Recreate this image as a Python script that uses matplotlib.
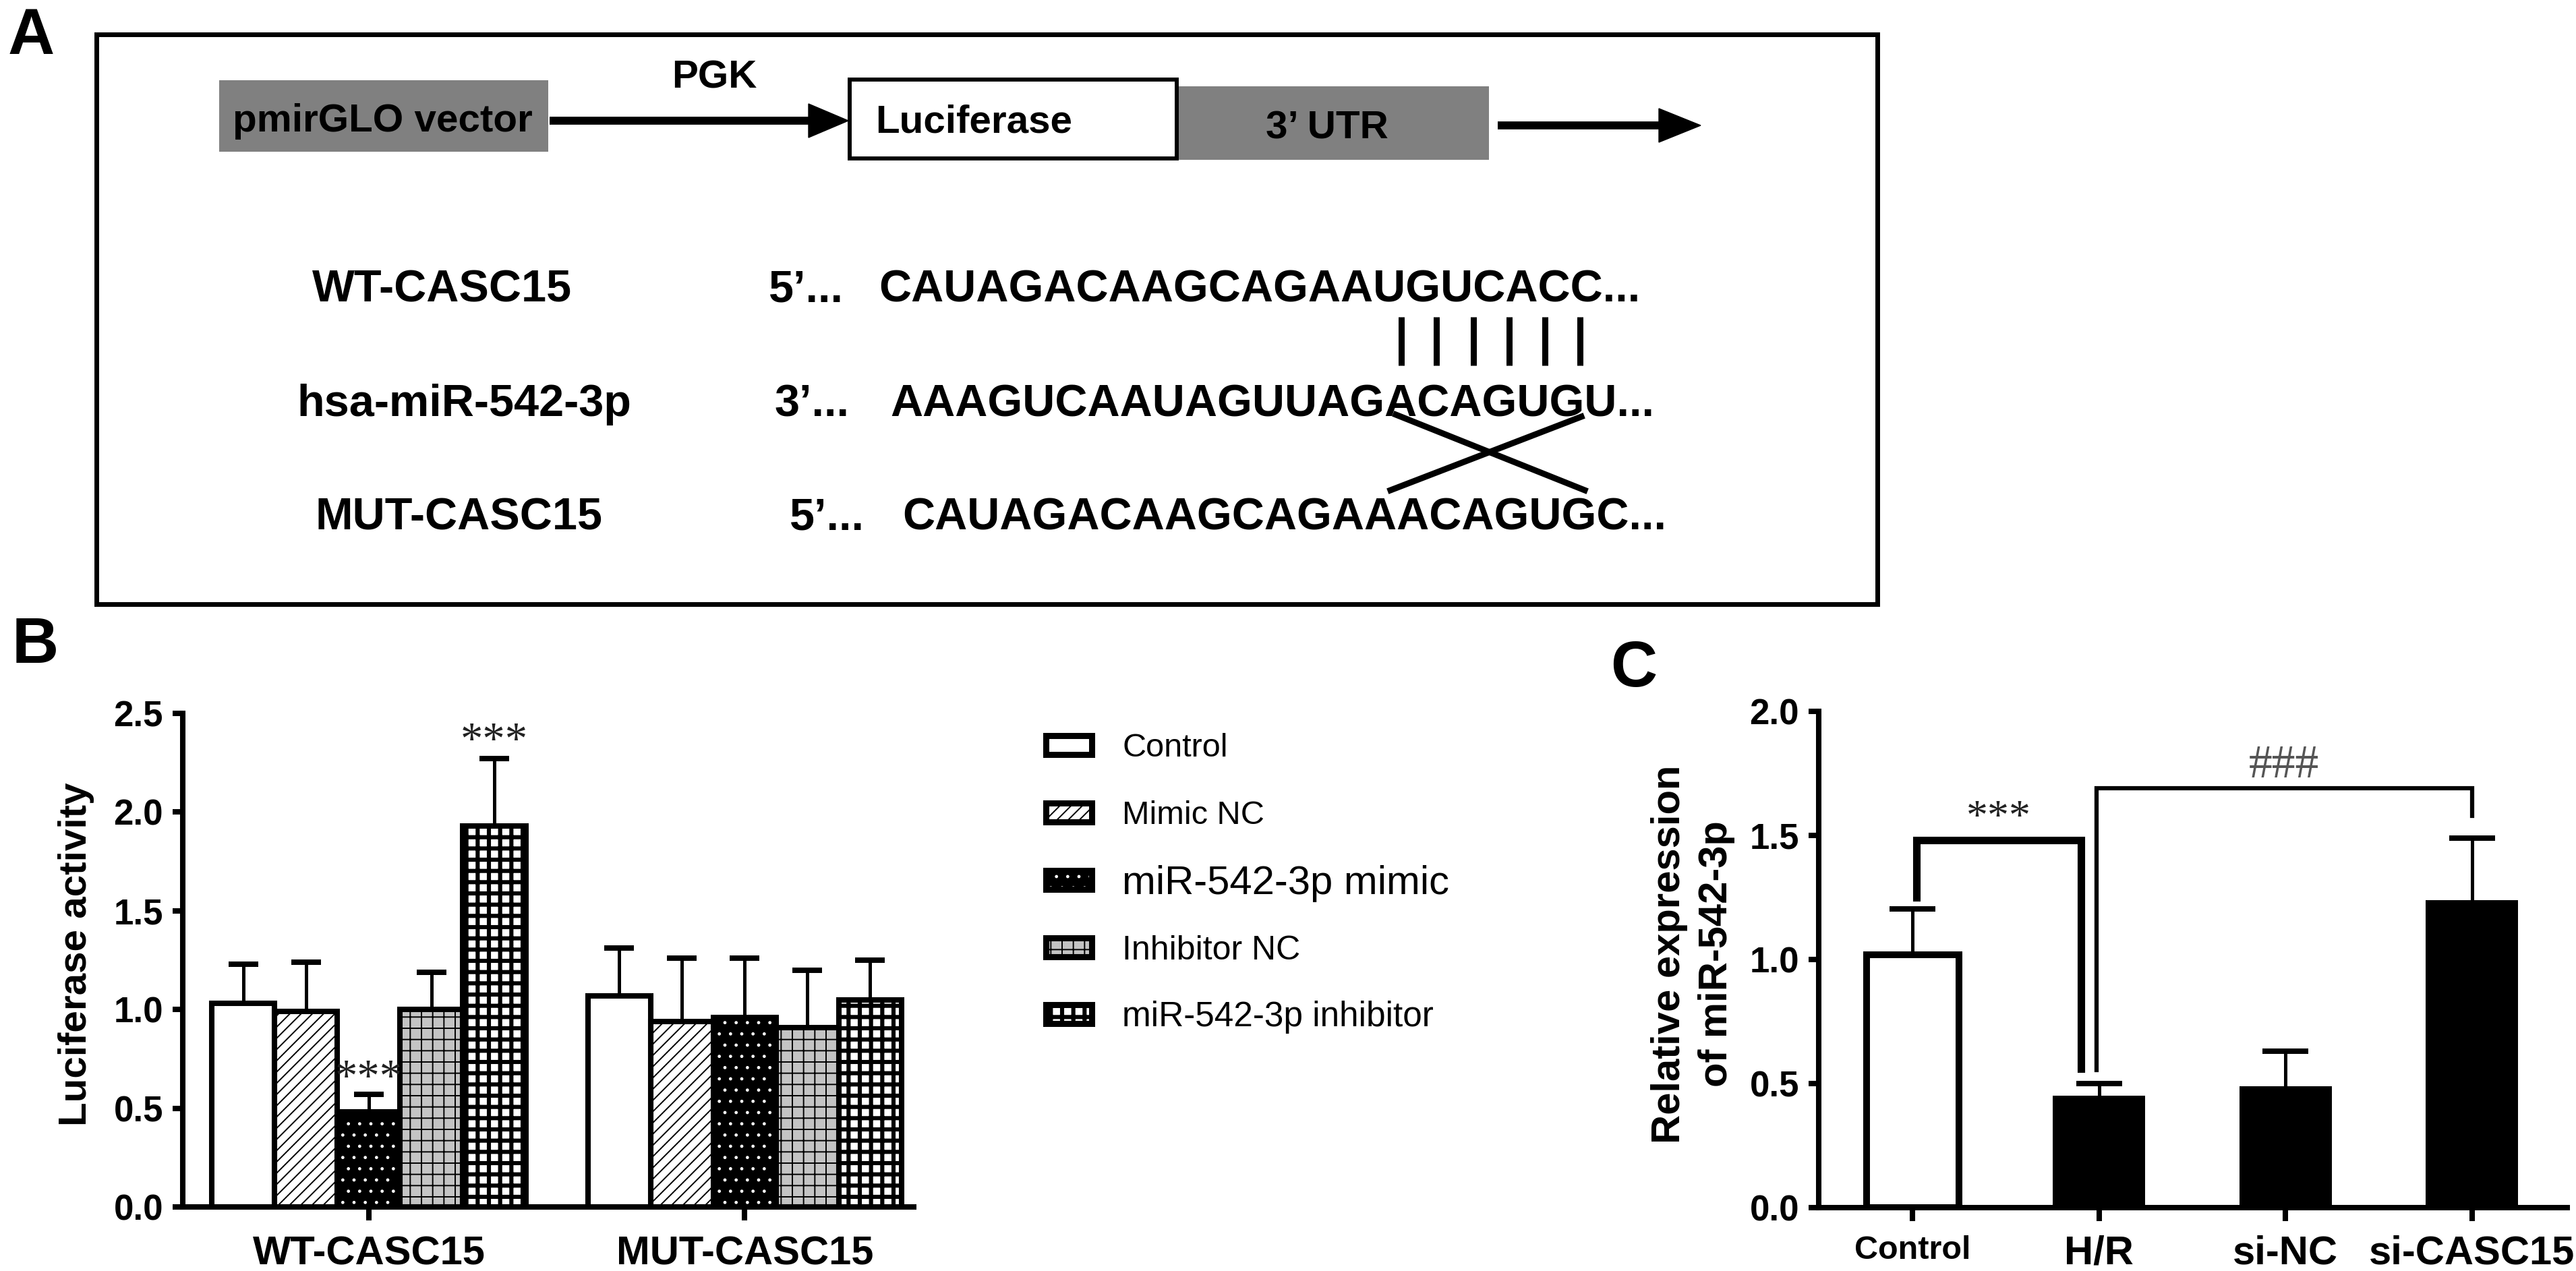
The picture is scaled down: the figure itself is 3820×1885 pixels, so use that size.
import numpy as np
import matplotlib
matplotlib.use('Agg')
import matplotlib.pyplot as plt
from matplotlib.patches import Rectangle, Polygon

plt.rcParams['font.family'] = ['Liberation Sans', 'DejaVu Sans']

W, H = 3820, 1885
DPI = 100

# ---------------- data ----------------
groups_b = ['WT-CASC15', 'MUT-CASC15']
series_b = ['Control', 'Mimic NC', 'miR-542-3p mimic', 'Inhibitor NC', 'miR-542-3p inhibitor']
wt_mean = [1.03, 0.99, 0.48, 1.00, 1.93]
wt_sd = [0.20, 0.25, 0.09, 0.19, 0.34]
mut_mean = [1.07, 0.94, 0.96, 0.91, 1.05]
mut_sd = [0.24, 0.32, 0.30, 0.29, 0.20]
wt_sig = ['', '', '***', '', '***']
wt_sig_y = [0, 0, 0.59, 0, 2.30]
b_yticks = [0.0, 0.5, 1.0, 1.5, 2.0, 2.5]

groups_c = ['Control', 'H/R', 'si-NC', 'si-CASC15']
c_mean = [1.02, 0.45, 0.49, 1.24]
c_sd = [0.185, 0.05, 0.14, 0.25]
c_yticks = [0.0, 0.5, 1.0, 1.5, 2.0]
bracket1_x = [0.02, 0.02, 0.905, 0.905]
bracket1_y = [1.25, 1.48, 1.48, 0.56]
bracket2_x = [0.985, 0.985, 3.0, 3.0]
bracket2_y = [0.555, 1.69, 1.69, 1.58]

seq_names = ['WT-CASC15', 'hsa-miR-542-3p', 'MUT-CASC15']
seq_ends = ['5\u2019...', '3\u2019...', '5\u2019...']
seq_strings = ['CAUAGACAAGCAGAAUGUCACC...', 'AAAGUCAAUAGUUAGACAGUGU...', 'CAUAGACAAGCAGAAACAGUGC...']

# ---------------- styles ----------------
styles = [
    dict(face='white', hatch=None, hcolor='none', hlw=1.0),
    dict(face='white', hatch='//', hcolor='black', hlw=1.4),
    dict(face='black', hatch='.', hcolor='white', hlw=1.0),
    dict(face='#c4c4c4', hatch='+', hcolor='black', hlw=1.4),
    dict(face='white', hatch='+', hcolor='black', hlw=4.4),
]


def styled_bars(ax, x, h, w, st, edge_lw):
    with plt.rc_context({'hatch.linewidth': st['hlw']}):
        base = ax.bar(x, h, w, color=st['face'], edgecolor=st['hcolor'],
                      linewidth=0, hatch=st['hatch'], zorder=2)
    for p in base:
        if hasattr(p, 'set_hatch_linewidth'):
            p.set_hatch_linewidth(st['hlw'])
    ax.bar(x, h, w, fill=False, edgecolor='black', linewidth=edge_lw, zorder=3)


def upper_errorbars(ax, x, y, err, capsize, zorder):
    cont = ax.errorbar(x, y, yerr=[np.zeros(len(y)), err], fmt='none', ecolor='black',
                       elinewidth=3.6, capsize=capsize, capthick=5.8, zorder=zorder)
    caplines = cont[1]
    if len(caplines) == 2:
        caplines[0].set_visible(False)


fig = plt.figure(figsize=(W / DPI, H / DPI), dpi=DPI)

# ---------------- panel A (schematic, pixel coordinates) ----------------
ax0 = fig.add_axes([0, 0, 1, 1])
ax0.set_xlim(0, W)
ax0.set_ylim(H, 0)
ax0.axis('off')

for lab, x, y in [('A', 12, 80), ('B', 18, 983), ('C', 2388, 1018)]:
    ax0.text(x, y, lab, fontsize=69, fontweight='bold', ha='left', va='baseline')

ax0.add_patch(Rectangle((143, 51), 2641, 845, fill=False, edgecolor='black', linewidth=5.0))

ax0.add_patch(Rectangle((325, 119), 488, 106, facecolor='#808080', edgecolor='none'))
ax0.add_patch(Rectangle((1745, 128), 463, 109, facecolor='#808080', edgecolor='none'))
ax0.add_patch(Rectangle((1260, 118), 485, 117, facecolor='white', edgecolor='black', linewidth=4.3))

ax0.plot([815, 1205], [179, 179], color='black', linewidth=8.5, solid_capstyle='butt')
ax0.add_patch(Polygon([[1199, 154], [1258, 179], [1199, 204]], closed=True, color='black'))
ax0.plot([2221, 2465], [186, 186], color='black', linewidth=8.5, solid_capstyle='butt')
ax0.add_patch(Polygon([[2460, 161], [2522, 186], [2460, 211]], closed=True, color='black'))

top_fs = 42
ax0.text(345, 195, 'pmirGLO vector', fontsize=top_fs, fontweight='bold', ha='left', va='baseline')
ax0.text(1059, 130, 'PGK', fontsize=top_fs, fontweight='bold', ha='center', va='baseline')
ax0.text(1298, 196, 'Luciferase', fontsize=top_fs, fontweight='bold', ha='left', va='baseline')
ax0.text(1968, 205, '3\u2019 UTR', fontsize=top_fs, fontweight='bold', ha='center', va='baseline')

seq_fs = 48
row_base = [447, 617, 785]
name_x = [463, 440, 467]
end_x = [1140, 1149, 1171]
seq_x = [1303, 1320, 1338]
for i in range(3):
    ax0.text(name_x[i], row_base[i], seq_names[i], fontsize=seq_fs, fontweight='bold', va='baseline')
    ax0.text(end_x[i], row_base[i], seq_ends[i], fontsize=seq_fs, fontweight='bold', va='baseline')
    ax0.text(seq_x[i], row_base[i], seq_strings[i], fontsize=seq_fs, fontweight='bold', va='baseline')

ax0.vlines([2078, 2130, 2185, 2238, 2291, 2343], 470, 542, color='black', linewidth=6.5)
ax0.plot([2070, 2350], [615, 727], color='black', linewidth=6.5)
ax0.plot([2345, 2062], [618, 727], color='black', linewidth=6.5)

# legend of panel B
leg_y = [1105, 1205, 1305, 1405, 1504]
leg_fs = [35, 35, 43, 36, 37]
for i, name in enumerate(series_b):
    st = styles[i]
    with plt.rc_context({'hatch.linewidth': st['hlw']}):
        p = Rectangle((1550.5, leg_y[i] - 14), 68, 28, facecolor=st['face'],
                      edgecolor=st['hcolor'], linewidth=0, hatch=st['hatch'])
    if hasattr(p, 'set_hatch_linewidth'):
        p.set_hatch_linewidth(st['hlw'])
    ax0.add_patch(p)
    ax0.add_patch(Rectangle((1550.5, leg_y[i] - 14), 68, 28, fill=False,
                            edgecolor='black', linewidth=6.5))
    capx = 0.716 * leg_fs[i] / 0.72
    ax0.text(1664, leg_y[i] + capx / 2, name, fontsize=leg_fs[i], ha='left', va='baseline')

# ---------------- panel B ----------------
axb = fig.add_axes([271 / W, 1 - 1790 / H, (1355 - 271) / W, (1790 - 1058) / H])
axb.set_facecolor('none')
bw = 0.167
gx = np.arange(len(groups_b))
for i in range(len(series_b)):
    xs = gx + (i - 2) * bw
    means = [wt_mean[i], mut_mean[i]]
    sds = [wt_sd[i], mut_sd[i]]
    upper_errorbars(axb, xs, means, sds, 16, 4)
    styled_bars(axb, xs, means, bw, styles[i], 5.8)
    if wt_sig[i]:
        axb.text(gx[0] + (i - 2) * bw, wt_sig_y[i], wt_sig[i],
                 fontsize=48, family=['Liberation Serif', 'DejaVu Serif'],
                 color='#222222', ha='center', va='baseline', zorder=5)

axb.set_xlim(-0.495, 1.45)
axb.set_ylim(0, 2.5)
axb.set_yticks(b_yticks)
axb.set_yticklabels([f'{v:.1f}' for v in b_yticks])
axb.set_xticks(gx)
axb.set_xticklabels(groups_b)
for s in ['top', 'right']:
    axb.spines[s].set_visible(False)
for s in ['left', 'bottom']:
    axb.spines[s].set_linewidth(5.8)
axb.tick_params(axis='y', labelsize=38, width=5.8, length=10.8, pad=10)
axb.tick_params(axis='x', labelsize=43, width=5.8, length=14.4, pad=16)
for lab in axb.get_yticklabels() + axb.get_xticklabels():
    lab.set_fontweight('bold')
axb.set_ylabel('Luciferase activity', fontsize=42, fontweight='bold')
axb.yaxis.set_label_coords(-0.121, 0.512)

# ---------------- panel C ----------------
axc = fig.add_axes([2697 / W, 1 - 1791 / H, (3807 - 2697) / W, (1791 - 1055) / H])
axc.set_facecolor('none')
cx = np.arange(len(groups_c))
cw = 0.495
upper_errorbars(axc, cx, c_mean, c_sd, 24.5, 1)
axc.bar(cx[:1], c_mean[:1], cw, color='white', edgecolor='black', linewidth=7.2, zorder=2)
axc.bar(cx[1:], c_mean[1:], cw, color='black', edgecolor='black', linewidth=0, zorder=2)
axc.plot(bracket1_x, bracket1_y, color='black', linewidth=8, solid_joinstyle='miter', zorder=5)
axc.plot(bracket2_x, bracket2_y, color='black', linewidth=4.5, solid_joinstyle='miter', zorder=5)
axc.text(np.mean(bracket1_x), 1.525, '***', fontsize=46, family=['Liberation Serif', 'DejaVu Serif'],
         color='#222222', ha='center', va='baseline')
axc.text(np.mean(bracket2_x), 1.735, '###', fontsize=50, family=['Liberation Serif', 'DejaVu Serif'],
         color='#555555', ha='center', va='baseline')

axc.set_xlim(-0.503, 3.51)
axc.set_ylim(0, 2.0)
axc.set_yticks(c_yticks)
axc.set_yticklabels([f'{v:.1f}' for v in c_yticks])
axc.set_xticks(cx)
axc.set_xticklabels(groups_c)
for s in ['top', 'right']:
    axc.spines[s].set_visible(False)
for s in ['left', 'bottom']:
    axc.spines[s].set_linewidth(5.8)
axc.tick_params(axis='y', labelsize=38, width=5.8, length=10.8, pad=10)
axc.tick_params(axis='x', labelsize=43, width=5.8, length=14.4, pad=15)
for lab in axc.get_yticklabels() + axc.get_xticklabels():
    lab.set_fontweight('bold')
axc.get_xticklabels()[0].set_fontsize(35)
axc.set_ylabel('Relative expression\nof miR-542-3p', fontsize=43, fontweight='bold', linespacing=1.35)
axc.yaxis.set_label_coords(-0.112, 0.511)

fig.savefig('out.png', dpi=DPI, facecolor='white')
